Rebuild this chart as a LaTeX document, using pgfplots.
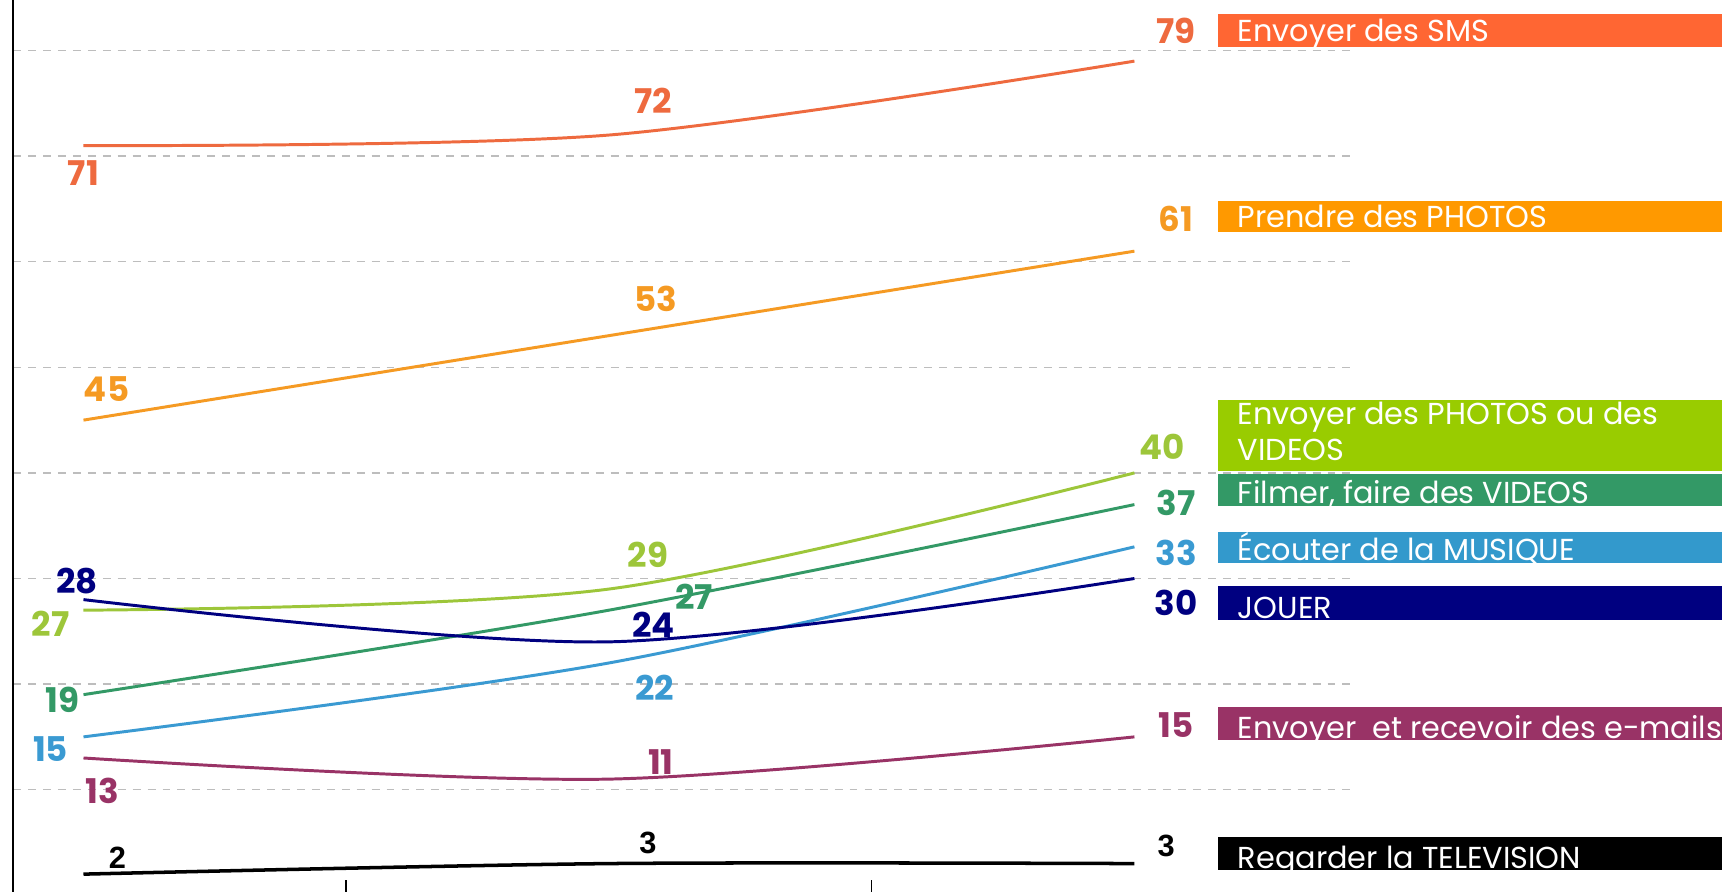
\documentclass[border=0pt]{standalone}
\usepackage{fontspec}
\setmainfont{Poppins}
\newcommand\numfont{\bfseries}
\newfontfamily\arialfont{Liberation Sans}
\usepackage{pgfplots}
\pgfplotsset{compat=1.18}
\definecolor{csms}{HTML}{EE6A3F}
\definecolor{bsms}{HTML}{FF6633}
\definecolor{cpho}{HTML}{F59A23}
\definecolor{bpho}{HTML}{FF9900}
\definecolor{cpv}{HTML}{9DC63A}
\definecolor{bpv}{HTML}{99CC00}
\definecolor{cfil}{HTML}{339966}
\definecolor{bfil}{HTML}{339966}
\definecolor{cmus}{HTML}{3A9AD2}
\definecolor{bmus}{HTML}{3399CC}
\definecolor{cjou}{HTML}{000080}
\definecolor{cmail}{HTML}{993366}
\definecolor{cgrid}{HTML}{BDBDBD}
\tikzset{
  numlab/.style={font=\numfont\fontsize{15.5}{16}\selectfont, inner sep=0pt},
  tvlab/.style={font=\arialfont\bfseries\fontsize{14}{14}\selectfont, inner sep=0pt, black},
  boxlab/.style={font=\fontsize{13.8}{14}\selectfont, white, anchor=base west, inner sep=0pt},
}
\begin{document}
\begin{tikzpicture}
\useasboundingbox (0,0) rectangle (784pt,406pt);
\begin{axis}[
  at={(6pt,-1.6pt)}, anchor=south west,
  scale only axis, width=610pt, height=407.6pt,
  xmin=-0.1338, xmax=2.416, ymin=0, ymax=84.79,
  clip=false,
  axis line style={draw=none},
  xtick={0.5,1.5}, xticklabels={}, xtick pos=bottom,
  tick align=inside, major tick length=7pt,
  x tick style={black, line width=0.7pt},
  ytick={10,20,30,40,50,60,70,80}, yticklabels={},
  y tick style={draw=none},
  ymajorgrids,
  major grid style={cgrid, line width=0.6pt, dash pattern=on 3.6pt off 3.2pt},
  every axis plot/.append style={smooth, tension=0.5, line width=1.35pt, no markers},
]
\draw[black, line width=1.2pt] (rel axis cs:0,0) -- (rel axis cs:0,1);
% lines
\addplot[csms] coordinates {(0,71) (1,72) (2,79)};
\addplot[cpho] coordinates {(0,45) (1,53) (2,61)};
\addplot[cpv] coordinates {(0,27) (1,29) (2,40)};
\addplot[cfil] coordinates {(0,19) (1,27) (2,37)};
\addplot[cmus] coordinates {(0,15) (1,22) (2,33)};
\addplot[cjou] coordinates {(0,28) (1,24) (2,30)};
\addplot[cmail] coordinates {(0,13) (1,11) (2,15)};
\addplot[black, line width=1.6pt] coordinates {(0,2) (1,3) (2,3)};
% boxes
\fill[bsms] (axis cs:2.159,83.44) rectangle (axis cs:3.4,80.32);
\fill[bpho] (axis cs:2.159,65.74) rectangle (axis cs:3.4,62.83);
\fill[bpv] (axis cs:2.159,46.94) rectangle (axis cs:3.4,40.18);
\fill[bfil] (axis cs:2.159,39.86) rectangle (axis cs:3.4,36.84);
\fill[bmus] (axis cs:2.159,34.45) rectangle (axis cs:3.4,31.43);
\fill[cjou] (axis cs:2.159,29.25) rectangle (axis cs:3.4,26.03);
\fill[cmail] (axis cs:2.159,17.81) rectangle (axis cs:3.4,14.69);
\fill[black] (axis cs:2.159,5.51) rectangle (axis cs:3.4,2.39);
\node[boxlab] at (axis cs:2.196,80.84) {Envoyer des SMS};
\node[boxlab] at (axis cs:2.196,63.21) {Prendre des PHOTOS};
\node[boxlab] at (axis cs:2.196,44.54) {Envoyer des PHOTOS ou des};
\node[boxlab] at (axis cs:2.196,41.21) {VIDEOS};
\node[boxlab] at (axis cs:2.196,37.15) {Filmer, faire des VIDEOS};
\node[boxlab] at (axis cs:2.196,31.75) {Écouter de la MUSIQUE};
\node[boxlab] at (axis cs:2.196,26.23) {JOUER};
\node[boxlab] at (axis cs:2.196,14.89) {Envoyer\ \ et recevoir des e-mails};
\node[boxlab] at (axis cs:2.196,2.52) {Regarder la TELEVISION};
% value labels
\node[numlab, csms] at (axis cs:0,68.35) {71};
\node[numlab, csms] at (axis cs:1.0846,75.22) {72};
\node[numlab, csms] at (axis cs:2.0794,81.88) {79};
\node[numlab, cpho] at (axis cs:0.0439,47.97) {45};
\node[numlab, cpho] at (axis cs:1.0888,56.50) {53};
\node[numlab, cpho] at (axis cs:2.0794,64.10) {61};
\node[numlab, cpv] at (axis cs:-0.0627,25.71) {27};
\node[numlab, cpv] at (axis cs:1.0742,32.27) {29};
\node[numlab, cpv] at (axis cs:2.0523,42.47) {40};
\node[numlab, cfil] at (axis cs:-0.0397,18.54) {19};
\node[numlab, cfil] at (axis cs:1.162,28.31) {27};
\node[numlab, cfil] at (axis cs:2.0794,37.16) {37};
\node[numlab, cmus] at (axis cs:-0.0627,13.85) {15};
\node[numlab, cmus] at (axis cs:1.0867,19.68) {22};
\node[numlab, cmus] at (axis cs:2.0794,32.47) {33};
\node[numlab, cjou] at (axis cs:-0.0125,29.77) {28};
\node[numlab, cjou] at (axis cs:1.0846,25.61) {24};
\node[numlab, cjou] at (axis cs:2.0794,27.69) {30};
\node[numlab, cmail] at (axis cs:0.0355,9.9) {13};
\node[numlab, cmail] at (axis cs:1.099,12.6) {11};
\node[numlab, cmail] at (axis cs:2.0794,16.14) {15};
\node[tvlab] at (axis cs:0.0648,3.56) {2};
\node[tvlab] at (axis cs:1.0742,5.0) {3};
\node[tvlab] at (axis cs:2.0606,4.68) {3};
\end{axis}
\end{tikzpicture}
\end{document}
